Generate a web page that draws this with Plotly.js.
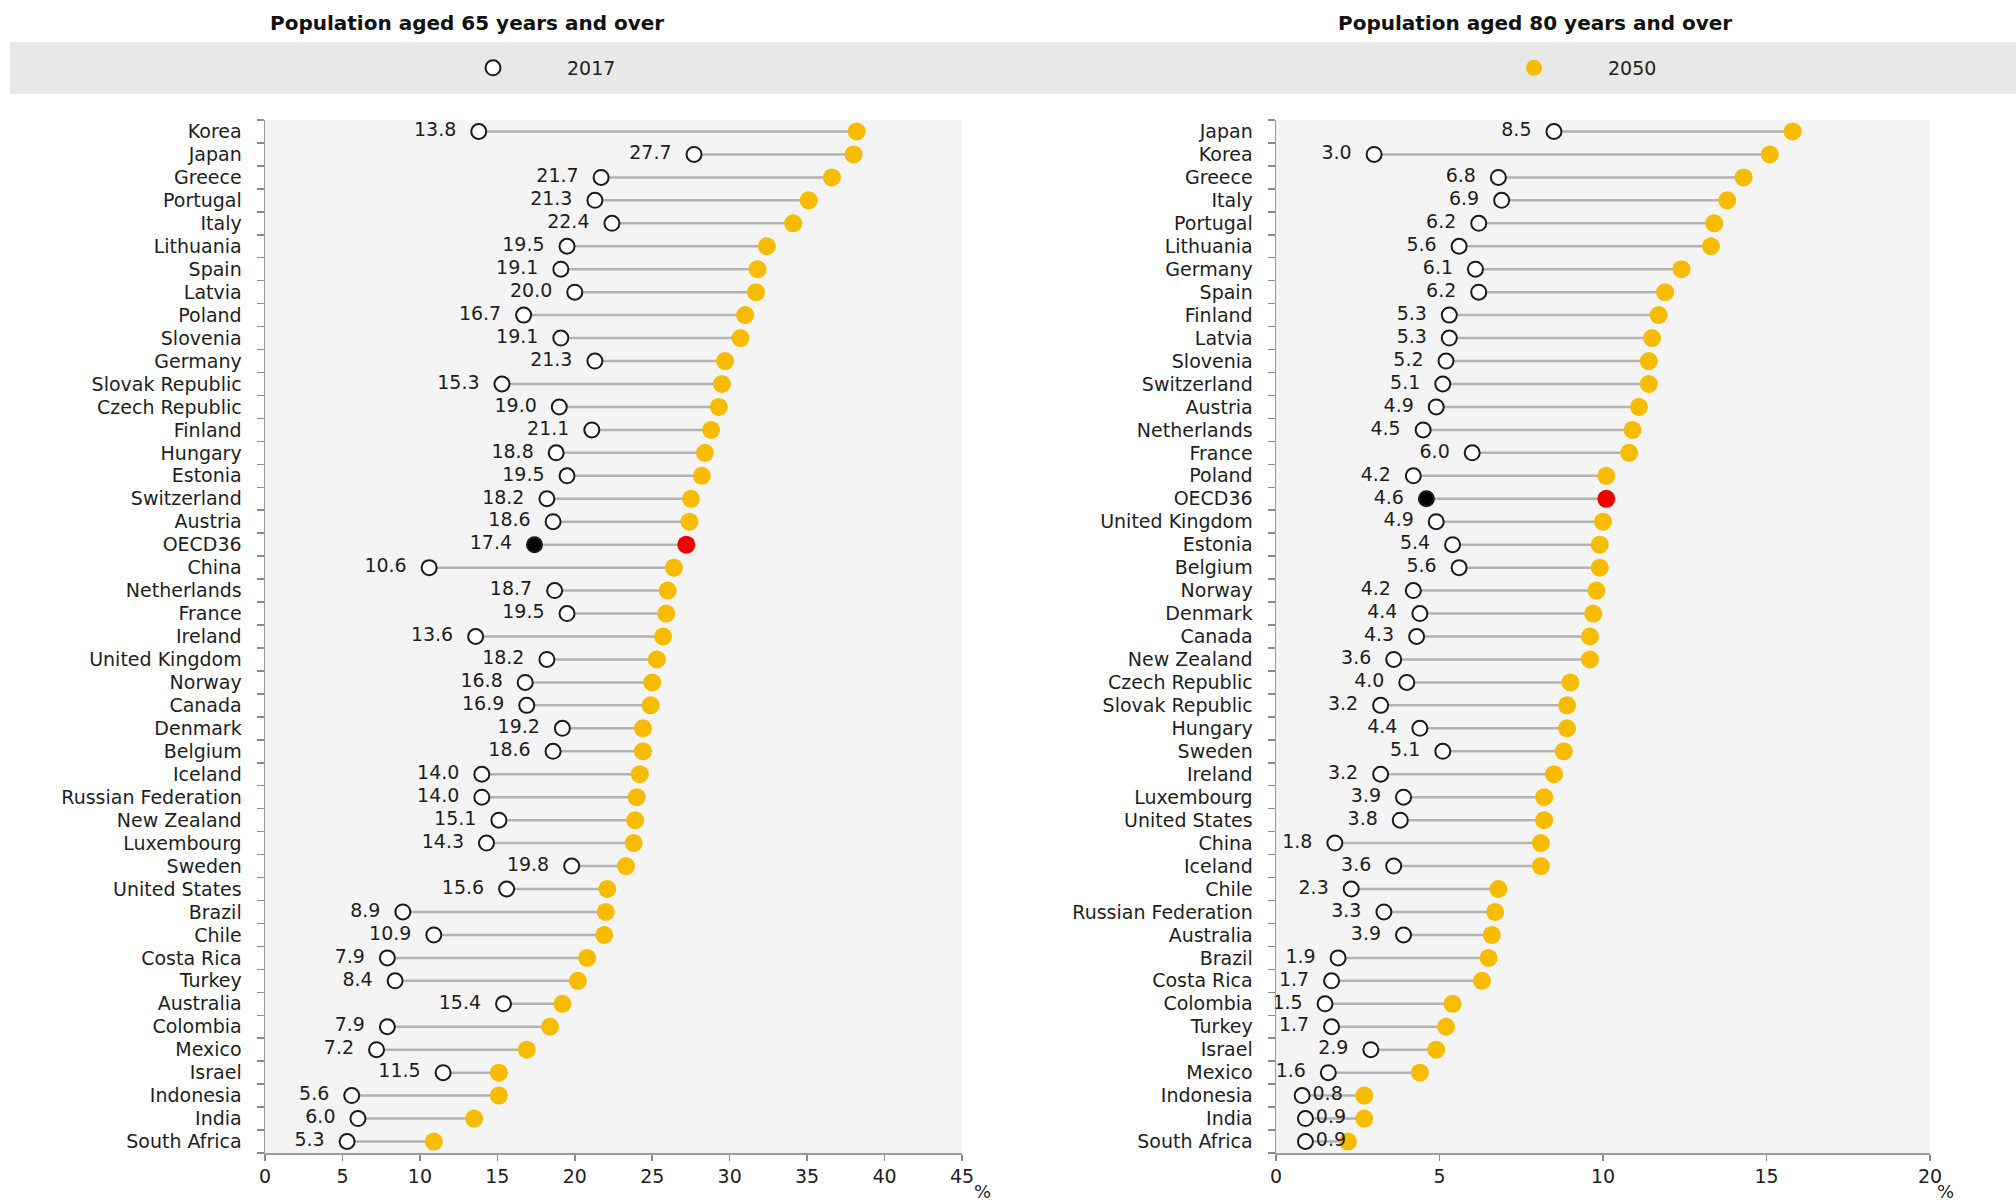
<!DOCTYPE html>
<html>
<head>
<meta charset="utf-8">
<script src="https://cdn.plot.ly/plotly-3.0.1.min.js"></script>
<style>
  html, body { margin: 0; padding: 0; background: #ffffff; }
  #chart { width: 2016px; height: 1204px; }
</style>
</head>
<body>
<div id="chart"></div>
<script>
// ---- Data: population aged 65 years and over (%) ----
const countries65 = ["Korea","Japan","Greece","Portugal","Italy","Lithuania","Spain","Latvia","Poland","Slovenia","Germany","Slovak Republic","Czech Republic","Finland","Hungary","Estonia","Switzerland","Austria","OECD36","China","Netherlands","France","Ireland","United Kingdom","Norway","Canada","Denmark","Belgium","Iceland","Russian Federation","New Zealand","Luxembourg","Sweden","United States","Brazil","Chile","Costa Rica","Turkey","Australia","Colombia","Mexico","Israel","Indonesia","India","South Africa"];
const pop65_2017 = [13.8,27.7,21.7,21.3,22.4,19.5,19.1,20.0,16.7,19.1,21.3,15.3,19.0,21.1,18.8,19.5,18.2,18.6,17.4,10.6,18.7,19.5,13.6,18.2,16.8,16.9,19.2,18.6,14.0,14.0,15.1,14.3,19.8,15.6,8.9,10.9,7.9,8.4,15.4,7.9,7.2,11.5,5.6,6.0,5.3];
const pop65_2050 = [38.2,38.0,36.6,35.1,34.1,32.4,31.8,31.7,31.0,30.7,29.7,29.5,29.3,28.8,28.4,28.2,27.5,27.4,27.2,26.4,26.0,25.9,25.7,25.3,25.0,24.9,24.4,24.4,24.2,24.0,23.9,23.8,23.3,22.1,22.0,21.9,20.8,20.2,19.2,18.4,16.9,15.1,15.1,13.5,10.9];

// ---- Data: population aged 80 years and over (%) ----
const countries80 = ["Japan","Korea","Greece","Italy","Portugal","Lithuania","Germany","Spain","Finland","Latvia","Slovenia","Switzerland","Austria","Netherlands","France","Poland","OECD36","United Kingdom","Estonia","Belgium","Norway","Denmark","Canada","New Zealand","Czech Republic","Slovak Republic","Hungary","Sweden","Ireland","Luxembourg","United States","China","Iceland","Chile","Russian Federation","Australia","Brazil","Costa Rica","Colombia","Turkey","Israel","Mexico","Indonesia","India","South Africa"];
const pop80_2017 = [8.5,3.0,6.8,6.9,6.2,5.6,6.1,6.2,5.3,5.3,5.2,5.1,4.9,4.5,6.0,4.2,4.6,4.9,5.4,5.6,4.2,4.4,4.3,3.6,4.0,3.2,4.4,5.1,3.2,3.9,3.8,1.8,3.6,2.3,3.3,3.9,1.9,1.7,1.5,1.7,2.9,1.6,0.8,0.9,0.9];
const pop80_2050 = [15.8,15.1,14.3,13.8,13.4,13.3,12.4,11.9,11.7,11.5,11.4,11.4,11.1,10.9,10.8,10.1,10.1,10.0,9.9,9.9,9.8,9.7,9.6,9.6,9.0,8.9,8.9,8.8,8.5,8.2,8.2,8.1,8.1,6.8,6.7,6.6,6.5,6.3,5.4,5.2,4.9,4.4,2.7,2.7,2.2];

const panelTitles = ["Population aged 65 years and over", "Population aged 80 years and over"];
const seriesNames = ["2017", "2050"];
const highlight = "OECD36";

// ---- Styling ----
const FONT = '"DejaVu Sans", "Liberation Sans", Arial, sans-serif';
const TEXT = '#1e1e1e';
const YELLOW = '#f7bb00';
const RED = '#ee0000';
const W = 2016, H = 1204;
const px = v => v / W;
const py = v => 1 - v / H;
const NB = '\u00a0';

function panelTraces(cats, v17, v50, xa, ya, showLeg) {
  const lx = [], ly = [];
  cats.forEach((c, i) => { lx.push(v17[i], v50[i], null); ly.push(c, c, null); });
  return [
    { type: 'scatter', mode: 'lines', x: lx, y: ly, xaxis: xa, yaxis: ya,
      line: { color: '#b3b3b3', width: 2.5 }, hoverinfo: 'skip', showlegend: false },
    { type: 'scatter', mode: 'markers', name: seriesNames[1], x: v50, y: cats, xaxis: xa, yaxis: ya,
      marker: { size: 18, color: cats.map(c => c === highlight ? RED : YELLOW), line: { width: 0 } },
      showlegend: !showLeg, legend: 'legend2', cliponaxis: false },
    { type: 'scatter', mode: 'markers+text', name: seriesNames[0], x: v17, y: cats, xaxis: xa, yaxis: ya,
      text: v17.map(v => v < 1 ? v.toFixed(1) : v.toFixed(1) + NB + NB),
      textposition: v17.map(v => v < 1 ? 'middle right' : 'middle left'),
      textfont: { family: FONT, size: 19, color: TEXT },
      marker: { size: 15, color: cats.map(c => c === highlight ? '#000000' : '#ffffff'),
                line: { color: '#1a1a1a', width: 2 } },
      showlegend: showLeg, legend: 'legend', cliponaxis: false }
  ];
}

const data = [
  ...panelTraces(countries65, pop65_2017, pop65_2050, 'x', 'y', true),
  ...panelTraces(countries80, pop80_2017, pop80_2050, 'x2', 'y2', false)
];

const yDomain = [py(1153), py(120)];
const xCommon = {
  dtick: 5, tick0: 0, ticks: 'outside', ticklen: 6, tickcolor: '#8a8a8a', tickwidth: 1.5,
  showline: true, linecolor: '#9a9a9a', linewidth: 1.5, zeroline: false, showgrid: false,
  tickfont: { family: FONT, size: 19, color: TEXT }, fixedrange: true
};
const yCommon = {
  type: 'category', categoryorder: 'array', range: [44.5, -0.5], domain: yDomain,
  tickmode: 'array',
  ticks: 'outside', tickson: 'boundaries', ticklen: 7, tickcolor: '#8a8a8a', tickwidth: 1.5,
  showline: true, linecolor: '#9a9a9a', linewidth: 1.5, showgrid: false, zeroline: false,
  tickfont: { family: FONT, size: 19, color: TEXT }, ticklabelstandoff: 18, fixedrange: true
};
const legendCommon = {
  orientation: 'h', xanchor: 'left', y: py(68), yanchor: 'middle', itemwidth: 138,
  bgcolor: 'rgba(0,0,0,0)', font: { family: FONT, size: 19, color: TEXT }
};

const layout = {
  width: W, height: H, autosize: false,
  margin: { l: 0, r: 0, t: 0, b: 0 },
  paper_bgcolor: '#ffffff', plot_bgcolor: '#f4f4f4',
  font: { family: FONT, size: 19, color: TEXT },
  showlegend: true,
  legend: Object.assign({}, legendCommon, { x: px(419) }),
  legend2: Object.assign({}, legendCommon, { x: px(1460) }),
  xaxis: Object.assign({}, xCommon, { domain: [px(265), px(962)], range: [0, 45], anchor: 'y' }),
  yaxis: Object.assign({}, yCommon, { categoryarray: countries65, tickvals: countries65, ticktext: countries65, anchor: 'x' }),
  xaxis2: Object.assign({}, xCommon, { domain: [px(1276), px(1930)], range: [0, 20], anchor: 'y2' }),
  yaxis2: Object.assign({}, yCommon, { categoryarray: countries80, tickvals: countries80, ticktext: countries80, anchor: 'x2' }),
  shapes: [
    { type: 'rect', xref: 'paper', yref: 'paper', x0: px(10), x1: 1, y0: py(94), y1: py(42),
      fillcolor: '#e8e8e8', line: { width: 0 }, layer: 'below' }
  ],
  annotations: [
    { xref: 'paper', yref: 'paper', x: px(467), y: py(23), text: '<b>' + panelTitles[0] + '</b>',
      showarrow: false, xanchor: 'center', yanchor: 'middle', font: { family: FONT, size: 20, color: '#111' } },
    { xref: 'paper', yref: 'paper', x: px(1535), y: py(23), text: '<b>' + panelTitles[1] + '</b>',
      showarrow: false, xanchor: 'center', yanchor: 'middle', font: { family: FONT, size: 20, color: '#111' } },
    { xref: 'paper', yref: 'paper', x: px(982), y: py(1191), text: '%', showarrow: false,
      xanchor: 'center', yanchor: 'middle', font: { family: FONT, size: 18, color: TEXT } },
    { xref: 'paper', yref: 'paper', x: px(1945), y: py(1191), text: '%', showarrow: false,
      xanchor: 'center', yanchor: 'middle', font: { family: FONT, size: 18, color: TEXT } }
  ]
};

Plotly.newPlot('chart', data, layout, { displayModeBar: false, staticPlot: true });
</script>
</body>
</html>
